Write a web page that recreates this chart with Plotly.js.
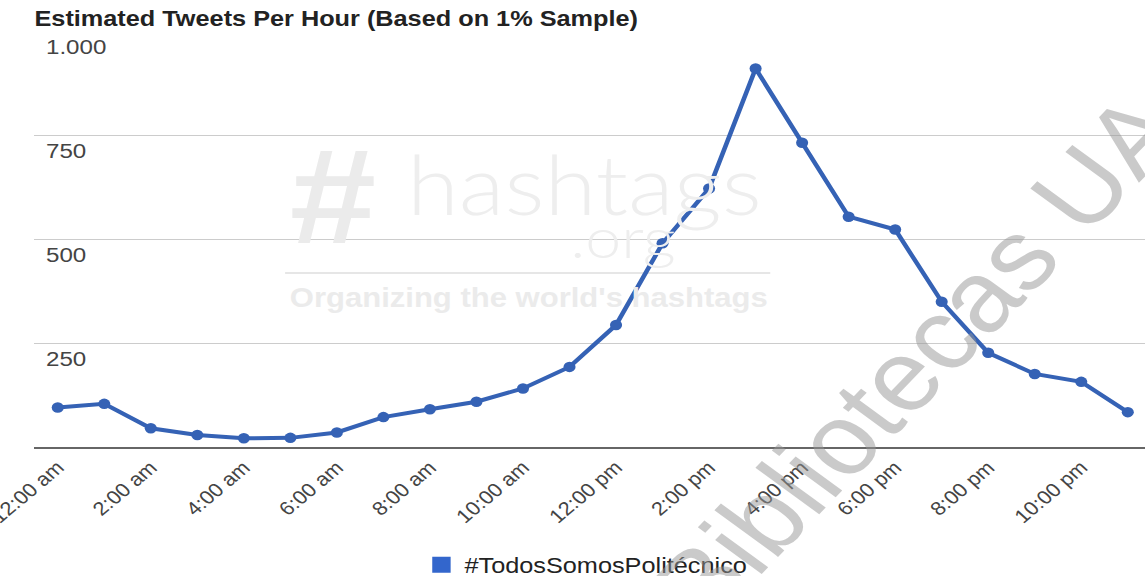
<!DOCTYPE html>
<html>
<head>
<meta charset="utf-8">
<script src="https://cdn.plot.ly/plotly-3.0.1.min.js"></script>
<style>
  html, body { margin: 0; padding: 0; background: #ffffff; overflow: hidden; }
  #chart { width: 996px; height: 576px; transform: scaleX(1.1496); transform-origin: 0 0; }
</style>
</head>
<body>
<div id="chart"></div>
<script>
// ---- data ----
const hours = ["12:00 am","1:00 am","2:00 am","3:00 am","4:00 am","5:00 am","6:00 am","7:00 am",
               "8:00 am","9:00 am","10:00 am","11:00 am","12:00 pm","1:00 pm","2:00 pm","3:00 pm",
               "4:00 pm","5:00 pm","6:00 pm","7:00 pm","8:00 pm","9:00 pm","10:00 pm","11:00 pm"];
const tweets = [95, 104, 45, 29, 21, 22, 35, 72, 91, 109, 141, 193,
                294, 491, 623, 912, 733, 555, 524, 350, 227, 176, 157, 84];
const xTickLabels = ["12:00 am","2:00 am","4:00 am","6:00 am","8:00 am","10:00 am",
                     "12:00 pm","2:00 pm","4:00 pm","6:00 pm","8:00 pm","10:00 pm"];
const yTickVals = [250, 500, 750, 1000];
const yTickText = ["250", "500", "750", "1.000"];
const seriesName = "#TodosSomosPolitécnico";
const chartTitle = "Estimated Tweets Per Hour (Based on 1% Sample)";

const FONT = "Liberation Sans, Arial, sans-serif";
const BLUE = "#3562b5";

const traces = [
  {
    x: hours, y: tweets, type: "scatter", mode: "lines+markers",
    line: { color: BLUE, width: 4 },
    marker: { color: BLUE, size: 10.5 },
    showlegend: false, hoverinfo: "x+y"
  },
  {
    x: [null], y: [null], type: "scatter", mode: "markers",
    name: seriesName,
    marker: { color: "#3366cc", size: 18, symbol: "square" },
    showlegend: true, hoverinfo: "skip"
  }
];

const layout = {
  width: 996, height: 576,
  margin: { l: 30, r: 0, t: 32, b: 129, pad: 0 },
  paper_bgcolor: "#ffffff", plot_bgcolor: "#ffffff",
  font: { family: FONT, color: "#444" },
  title: {
    text: "<b>" + chartTitle + "</b>",
    font: { family: FONT, size: 22, color: "#222" },
    xref: "container", x: 30 / 996, xanchor: "left",
    yref: "container", y: 1 - 18 / 576, yanchor: "middle"
  },
  xaxis: {
    type: "category",
    range: [-0.5, 23.37],
    tickvals: xTickLabels, ticktext: xTickLabels,
    tickangle: -44,
    ticklabeloverflow: "allow",
    tickfont: { family: FONT, size: 19, color: "#444" },
    showgrid: false, zeroline: false,
    showline: true, linecolor: "#666", linewidth: 2,
    ticks: "", fixedrange: true, automargin: false
  },
  yaxis: {
    range: [0, 1000],
    tickvals: yTickVals, ticktext: yTickText,
    ticklabelposition: "inside",
    ticklabeloverflow: "allow",
    ticklabelstandoff: 7,
    ticklabelshift: 15,
    tickfont: { family: FONT, size: 21, color: "#444" },
    showgrid: true, gridcolor: "#cccccc", gridwidth: 1,
    zeroline: false, showline: false, ticks: "",
    fixedrange: true, automargin: false
  },
  legend: {
    orientation: "h",
    xref: "container", x: 364 / 996, xanchor: "left",
    yref: "container", y: 1 - 565 / 576, yanchor: "middle",
    font: { family: FONT, size: 22, color: "#222" },
    bgcolor: "rgba(0,0,0,0)"
  },
  shapes: [
    { type: "line", xref: "paper", yref: "paper", layer: "below",
      x0: (248 - 30) / 966, x1: (670 - 30) / 966,
      y0: 1 - (273 - 32) / 415, y1: 1 - (273 - 32) / 415,
      line: { color: "#e6e6e6", width: 2 } }
  ],
  annotations: [
    { text: "<b>#</b>", xref: "paper", yref: "paper",
      x: (289 - 30) / 966, y: 1 - (196 - 32) / 415, xanchor: "center", yanchor: "middle",
      showarrow: false, font: { family: FONT, size: 135, color: "#ebebeb" } },
    { text: "hashtags", xref: "paper", yref: "paper",
      x: (352 - 30) / 966, y: 1 - (183 - 32) / 415, xanchor: "left", yanchor: "middle",
      showarrow: false, font: { family: "Lato, sans-serif", size: 82, weight: 300, color: "#eeeeee" } },
    { text: ".org", xref: "paper", yref: "paper",
      x: (542 - 30) / 966, y: 1 - (236 - 32) / 415, xanchor: "center", yanchor: "middle",
      showarrow: false, font: { family: "Lato, sans-serif", size: 56, weight: 300, color: "#eeeeee" } },
    { text: "<b>Organizing the world's hashtags</b>", xref: "paper", yref: "paper",
      x: (460 - 30) / 966, y: 1 - (298 - 32) / 415, xanchor: "center", yanchor: "middle",
      showarrow: false, font: { family: FONT, size: 27, color: "#ebebeb" } },
    { text: "Bibliotecas UA", xref: "paper", yref: "paper",
      x: 0.795, y: 0.215, xanchor: "center", yanchor: "middle",
      textangle: -50, showarrow: false,
      font: { family: FONT, size: 100, color: "rgba(150,150,150,0.5)" } }
  ]
};

Plotly.newPlot("chart", traces, layout, { displayModeBar: false, staticPlot: true });
</script>
</body>
</html>
